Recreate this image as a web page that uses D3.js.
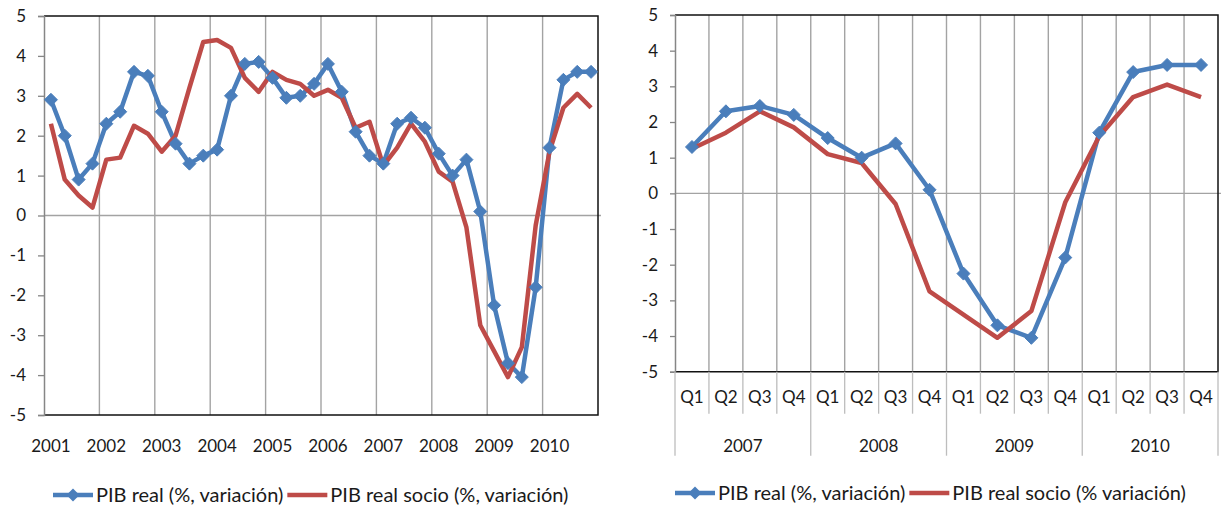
<!DOCTYPE html>
<html>
<head>
<meta charset="utf-8">
<script src="https://cdn.jsdelivr.net/npm/d3@7"></script>
<style>
  body { margin: 0; background: #fff; }
  text { font-family: "Lato", "Open Sans", sans-serif; fill: #1a1a1a; }
</style>
</head>
<body>
<script>
// ! DATA ! //
const quarters = ["Q1", "Q2", "Q3", "Q4"];
const yearsLeft = ["2001", "2002", "2003", "2004", "2005", "2006", "2007", "2008", "2009", "2010"];
const yearsRight = ["2007", "2008", "2009", "2010"];
const yTicks = [5, 4, 3, 2, 1, 0, -1, -2, -3, -4, -5];

// quarterly 2001Q1 - 2010Q4
const pibReal = [2.9, 2.0, 0.9, 1.3, 2.3, 2.6, 3.6, 3.5, 2.6, 1.8, 1.3, 1.5, 1.65, 3.0, 3.8, 3.85,
    3.45, 2.95, 3.0, 3.3, 3.8, 3.1, 2.1, 1.5, 1.3, 2.3, 2.45, 2.2, 1.55, 1.0, 1.4, 0.1,
    -2.25, -3.7, -4.05, -1.8, 1.7, 3.4, 3.6, 3.6];
const pibSocio = [2.3, 0.9, 0.5, 0.2, 1.4, 1.45, 2.25, 2.05, 1.6, 2.0, 3.2, 4.35, 4.4, 4.2, 3.45, 3.1,
    3.6, 3.4, 3.3, 3.0, 3.15, 2.95, 2.2, 2.35, 1.25, 1.7, 2.3, 1.85, 1.1, 0.85, -0.3, -2.75,
    -3.4, -4.05, -3.3, -0.25, 1.6, 2.7, 3.05, 2.7];

const legendLeft = ["PIB real (%, variación)", "PIB real socio (%, variación)"];
const legendRight = ["PIB real (%, variación)", "PIB real socio (% variación)"];

// ! COLORS ! //
const blue = "#4a7ebb";
const red = "#be4b48";
const gridColor = "#a3a3a3";

const svg = d3.select("body").append("svg").attr("width", 1222).attr("height", 510);

const diamond = "M0,-6.5L6.5,0L0,6.5L-6.5,0Z";

function drawPanel(p) {
    const keys = p.years.flatMap((yr) => quarters.map((q) => yr + "-" + q));
    const x = d3.scaleBand().domain(keys).range([p.left, p.right]).padding(0);
    const y = d3.scaleLinear().domain([-5, 5]).range([p.bottom, p.top]);
    const cx = (k) => x(k) + x.bandwidth() / 2;
    const g = svg.append("g");

    // ^ vertical gridlines ^ //
    const gridKeys = keys.filter((k, i) => i % p.gridEvery === 0 && i > 0);
    g.append("g")
        .selectAll("line")
        .data(gridKeys)
        .enter()
        .append("line")
        .attr("x1", (k) => x(k))
        .attr("x2", (k) => x(k))
        .attr("y1", p.top)
        .attr("y2", p.bottom)
        .attr("stroke", gridColor)
        .attr("stroke-width", 1.4);

    // ^ zero line ^ //
    g.append("line")
        .attr("x1", p.left).attr("x2", p.right + 3)
        .attr("y1", y(0)).attr("y2", y(0))
        .attr("stroke", gridColor).attr("stroke-width", 1.4);

    // ^ border top / right / bottom ^ //
    g.append("path")
        .attr("d", `M${p.left},${p.top}H${p.right}V${p.bottom}H${p.left}`)
        .attr("fill", "none")
        .attr("stroke", "#111")
        .attr("stroke-width", 1.5);

    // ^ y axis ^ //
    const yAxis = d3.axisLeft(y).tickValues(yTicks).tickFormat((d) => String(d)).tickSize(p.tickSize).tickPadding(p.tickPad);
    const ya = g.append("g").attr("transform", `translate(${p.left},0)`).call(yAxis);
    ya.select(".domain").attr("stroke", "#868686").attr("stroke-width", 1.5);
    ya.selectAll(".tick line").attr("stroke", "#868686").attr("stroke-width", 1.3);
    ya.selectAll(".tick text").style("font-size", "17px").attr("fill", "#1a1a1a");

    // ^ x labels ^ //
    if (p.quarterLabels) {
        g.append("g")
            .selectAll("text")
            .data(keys)
            .enter()
            .append("text")
            .attr("x", cx)
            .attr("y", p.bottom + 31)
            .attr("text-anchor", "middle")
            .style("font-size", "17px")
            .text((k) => k.split("-")[1]);
        // separators
        g.append("g")
            .selectAll("line")
            .data(keys.concat(["end"]))
            .enter()
            .append("line")
            .attr("x1", (k) => (k === "end" ? p.right : x(k)))
            .attr("x2", (k) => (k === "end" ? p.right : x(k)))
            .attr("y1", p.bottom)
            .attr("y2", (k, i) => (i % 4 === 0 ? p.bottom + 84 : p.bottom + 42))
            .attr("stroke", "#bdbdbd")
            .attr("stroke-width", 1.3);
        g.append("g")
            .selectAll("text")
            .data(p.years)
            .enter()
            .append("text")
            .attr("x", (yr) => (x(yr + "-Q1") + x(yr + "-Q4") + x.bandwidth()) / 2)
            .attr("y", p.bottom + 80)
            .attr("text-anchor", "middle")
            .style("font-size", "17px")
            .text((yr) => yr);
    } else {
        g.append("g")
            .selectAll("text")
            .data(p.years)
            .enter()
            .append("text")
            .attr("x", (yr) => cx(yr + "-Q1"))
            .attr("y", p.bottom + 37)
            .attr("text-anchor", "middle")
            .style("font-size", "17px")
            .text((yr) => yr);
    }

    // ^ series ^ //
    const line = d3.line().x((d) => cx(d.k)).y((d) => y(d.v));
    const realData = keys.map((k, i) => ({ k: k, v: p.real[i] }));
    const socioData = keys.map((k, i) => ({ k: k, v: p.socio[i] }));

    g.append("path")
        .datum(realData)
        .attr("d", line)
        .attr("fill", "none")
        .attr("stroke", blue)
        .attr("stroke-width", 4.5)
        .attr("stroke-linejoin", "round");

    g.append("path")
        .datum(socioData)
        .attr("d", line)
        .attr("fill", "none")
        .attr("stroke", red)
        .attr("stroke-width", 4.5)
        .attr("stroke-linejoin", "round");

    g.append("g")
        .selectAll("path")
        .data(realData)
        .enter()
        .append("path")
        .attr("d", diamond)
        .attr("transform", (d) => `translate(${cx(d.k)},${y(d.v)})`)
        .attr("fill", blue)
        .attr("stroke", blue)
        .attr("stroke-width", 1);

    // ^ legend ^ //
    const lg = g.append("g").attr("transform", `translate(0,${p.legendY})`);
    let lx = p.legendX;
    p.legend.forEach((label, i) => {
        const color = i === 0 ? blue : red;
        lg.append("line")
            .attr("x1", lx).attr("x2", lx + 40)
            .attr("y1", 0).attr("y2", 0)
            .attr("stroke", color).attr("stroke-width", 4.5);
        if (i === 0) {
            lg.append("path").attr("d", diamond).attr("transform", `translate(${lx + 20},0)`).attr("fill", blue);
        }
        const t = lg.append("text")
            .attr("x", lx + 43)
            .attr("y", 0)
            .attr("dy", "0.35em")
            .style("font-size", "20px")
            .text(label);
        lx = lx + 43 + t.node().getComputedTextLength() + 4;
    });
}

drawPanel({
    years: yearsLeft, real: pibReal, socio: pibSocio,
    left: 44, right: 598, top: 16, bottom: 415,
    gridEvery: 4, tickSize: 6, tickPad: 12,
    quarterLabels: false,
    legend: legendLeft, legendX: 53, legendY: 495
});

drawPanel({
    years: yearsRight, real: pibReal.slice(24), socio: pibSocio.slice(24),
    left: 675, right: 1218, top: 15, bottom: 371.7,
    gridEvery: 1, tickSize: 5, tickPad: 12,
    quarterLabels: true,
    legend: legendRight, legendX: 675, legendY: 493
});
</script>
</body>
</html>
